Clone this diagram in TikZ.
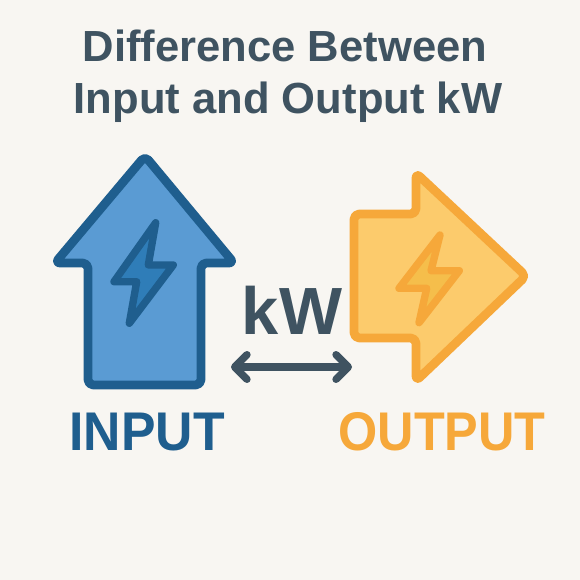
\documentclass[tikz,border=0pt]{standalone}
\usepackage{fontspec}
\setmainfont{Liberation Sans}
\usetikzlibrary{arrows.meta}
\definecolor{paperbg}{HTML}{F8F6F2}
\definecolor{slatetext}{HTML}{3F5361}
\definecolor{inputline}{HTML}{1F5E8E}
\definecolor{inputfill}{HTML}{5A9BD3}
\definecolor{inputbolt}{HTML}{2F7DB8}
\definecolor{outputline}{HTML}{F6A83A}
\definecolor{outputfill}{HTML}{FCCB6C}
\definecolor{outputbolt}{HTML}{F5BE4B}
\tikzset{
  shapeline/.style={line width=5pt, line join=round, rounded corners=3pt},
  boltline/.style={line width=4.2pt, line join=round},
  titletext/.style={font=\fontsize{24.8}{24.8}\selectfont\bfseries, text=slatetext},
  bigtext/.style={font=\fontsize{31}{31}\selectfont\bfseries},
}

\begin{document}
\begin{tikzpicture}[x=0.02cm, y=-0.02cm]
  \useasboundingbox (0,0) rectangle (580,580);
  \fill[paperbg] (0,0) rectangle (580,580);

  % title
  \node[titletext] (title1) at (285,46) {Difference Between};
  \node[titletext] (title2) at (288,102) {Input and Output kW};

  % input arrow
  \draw[shapeline, inputline, fill=inputfill]
    (145,156) -- (234,263) -- (201,263) -- (201,385) -- (88,385)
    -- (88,263) -- (55,263) -- cycle;
  \draw[boltline, inputline, fill=inputbolt]
    (155.7,222.7) -- (148.3,265) -- (173.3,265) -- (129.3,323.3)
    -- (136.7,281.7) -- (114,281.7) -- cycle;

  % output arrow
  \draw[shapeline, outputline, fill=outputfill]
    (354,214) -- (416,214) -- (416,173) -- (526,276) -- (416,381)
    -- (416,338) -- (354,338) -- cycle;
  \draw[boltline, outputline, fill=outputbolt]
    (440,235) -- (431,270.7) -- (459.3,270.7) -- (419,322.7)
    -- (426.7,288.3) -- (399,288.3) -- cycle;

  % kW between the arrows
  \node[font=\fontsize{38}{38}\selectfont\bfseries, text=slatetext] (kw) at (292,310) {kW};
  \coordinate (kwleft) at (231,367);
  \coordinate (kwright) at (352,367);
  \draw[{Straight Barb[round,length=7pt,width=14pt]}-{Straight Barb[round,length=7pt,width=14pt]},
    slatetext, line width=4.2pt, line cap=round] (kwleft) -- (kwright);

  % labels
  \node[bigtext, text=inputline, xscale=0.95] (inputlabel) at (147,432) {INPUT};
  \node[bigtext, text=outputline, xscale=0.925] (outputlabel) at (442,432) {OUTPUT};
\end{tikzpicture}
\end{document}
